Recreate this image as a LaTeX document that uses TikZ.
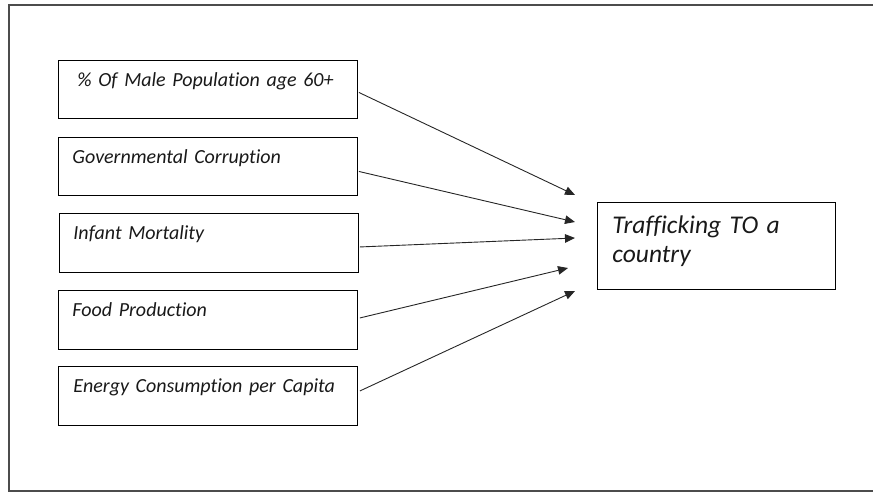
\documentclass[tikz,border=0pt]{standalone}
\usepackage{fontspec}
\setmainfont{Carlito}[Ligatures=NoCommon]
\usetikzlibrary{arrows.meta,calc}
\begin{document}
\begin{tikzpicture}[x=1pt,y=-1pt,
  srcbox/.style={draw=black, line width=0.9pt, rectangle, anchor=north west,
    inner xsep=14pt, inner ysep=0pt, text width=271pt, align=left,
    text height=26pt, text depth=32pt, text=black!90,
    font=\fontsize{20}{24}\selectfont\itshape},
  tgtbox/.style={draw=black, line width=0.9pt, rectangle, anchor=north west,
    inner xsep=15pt, inner ysep=0pt, text width=208pt, align=left,
    text height=31pt, text depth=56pt, text=black!90,
    font=\fontsize{25.5}{29}\selectfont\itshape},
  link/.style={line width=0.9pt, draw=black!85, -{Triangle[length=10pt,width=8.5pt]}},
  frame/.style={line width=1.5pt, draw=black!70}
]
\useasboundingbox (0,0) rectangle (873,493);
\draw[frame] (880,5) -- (9,5) -- (9,491) -- (880,491);

\node[srcbox] (b1) at (58,60) {\hspace*{5pt}\% Of Male Population age 60+};
\node[srcbox] (b2) at (58,137) {Governmental Corruption};
\node[srcbox, text depth=33pt] (b3) at (59,213) {Infant Mortality};
\node[srcbox, text depth=33pt] (b4) at (58,290) {Food Production};
\node[srcbox, text depth=33pt] (b5) at (58,366) {\hspace*{1pt}Energy Consumption per Capita};
\node[tgtbox] (t) at (597,202) {Trafficking TO a\\country};

\coordinate (e1) at (575,195);
\coordinate (e2) at (575,222);
\coordinate (e3) at (575,238);
\coordinate (e4) at (568,268);
\coordinate (e5) at (575,291);

\draw[link] ($(b1.east)+(1,3)$) -- (e1);
\draw[link] ($(b2.east)+(1,5)$) -- (e2);
\draw[link] ($(b3.east)+(1,4)$) -- (e3);
\draw[link] ($(b4.east)+(2,-2)$) -- (e4);
\draw[link] ($(b5.east)+(2,-5)$) -- (e5);
\end{tikzpicture}
\end{document}
